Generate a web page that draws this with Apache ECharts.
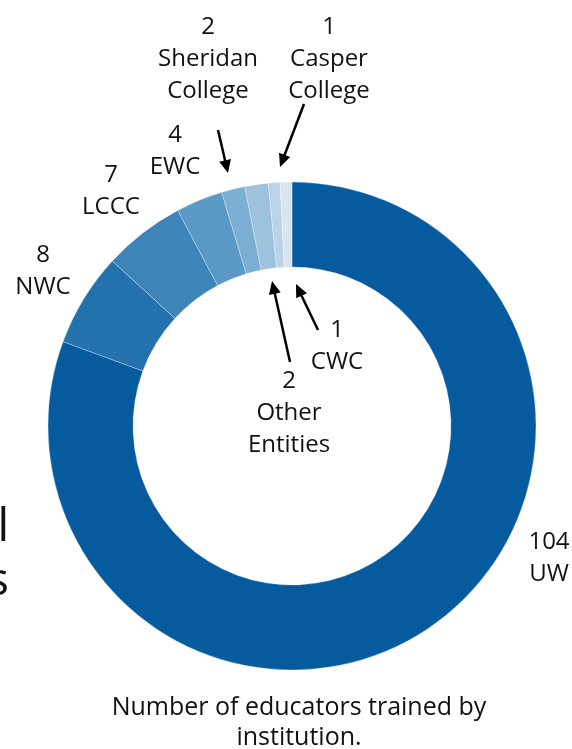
<!DOCTYPE html>
<html>
<head>
<meta charset="utf-8">
<script src="https://cdn.jsdelivr.net/npm/echarts@6/dist/echarts.min.js"></script>
<style>
  html, body { margin: 0; padding: 0; background: #fff; }
  #chart { width: 572px; height: 749px; }
</style>
</head>
<body>
<div id="chart"></div>
<script>
// institutions, clockwise from 12 o'clock
const names = ['UW', 'NWC', 'LCCC', 'EWC', 'Sheridan\nCollege', 'Other\nEntities', 'Casper\nCollege', 'CWC'];
const counts = [104, 8, 7, 4, 2, 2, 1, 1];
const colors = ['#065b9f', '#2372ad', '#3d85b9', '#5a99c6', '#7aaed3', '#9cc2de', '#bad3e7', '#d7e6f2'];
// label centres (px)
const labelPos = [[549, 558], [43, 271], [111, 191], [175, 151], [208, 59], [289, 413], [329, 59], [337, 346]];
// arrows for the thin slices: [x1, y1, x2, y2]
const arrows = [[218, 130, 228, 173], [304, 104, 280, 167], [290, 362, 272, 281], [318, 330, 296, 284]];

const font = '"Open Sans", "Noto Sans", sans-serif';
const myChart = echarts.init(document.getElementById('chart'));

function arrow(a) {
    const [x1, y1, x2, y2] = a;
    const dx = x2 - x1, dy = y2 - y1;
    const len = Math.sqrt(dx * dx + dy * dy);
    const ux = dx / len, uy = dy / len;
    const hl = 13, hw = 6;
    const bx = x2 - ux * hl, by = y2 - uy * hl;
    return [
        {
            type: 'line',
            shape: { x1: x1, y1: y1, x2: bx + ux * 2, y2: by + uy * 2 },
            style: { stroke: '#000', lineWidth: 2.5 }
        },
        {
            type: 'polygon',
            shape: { points: [[x2, y2], [bx - uy * hw, by + ux * hw], [bx + uy * hw, by - ux * hw]] },
            style: { fill: '#000' }
        }
    ];
}

let graphics = [];
arrows.forEach(a => { graphics = graphics.concat(arrow(a)); });
graphics.push({
    type: 'text', x: 299, y: 723,
    style: {
        text: 'Number of educators trained by\ninstitution.',
        font: '25px ' + font, fill: '#111', align: 'center', verticalAlign: 'middle', lineHeight: 30
    }
});
// text cut off at the left edge of the slide
graphics.push({ type: 'text', x: 9, y: 528, style: { text: 'l', font: '46px ' + font, fill: '#111', align: 'right', verticalAlign: 'middle' } });
graphics.push({ type: 'text', x: 9, y: 582, style: { text: 's', font: '46px ' + font, fill: '#111', align: 'right', verticalAlign: 'middle' } });

myChart.setOption({
    animation: false,
    color: colors,
    graphic: graphics,
    series: [{
        type: 'pie',
        center: [292, 426],
        radius: [159, 244],
        startAngle: 90,
        clockwise: true,
        avoidLabelOverlap: false,
        itemStyle: { borderColor: '#fff', borderWidth: 0.3 },
        label: {
            show: true,
            position: 'outside',
            formatter: '{c}\n{b}',
            fontFamily: font,
            fontSize: 24,
            lineHeight: 32,
            color: '#111',
            align: 'center',
            verticalAlign: 'middle'
        },
        labelLine: { show: false },
        labelLayout: function (params) {
            const p = labelPos[params.dataIndex];
            return { x: p[0], y: p[1], align: 'center', verticalAlign: 'middle' };
        },
        emphasis: { disabled: true },
        data: names.map((n, i) => ({ name: n, value: counts[i] }))
    }]
});
</script>
</body>
</html>
